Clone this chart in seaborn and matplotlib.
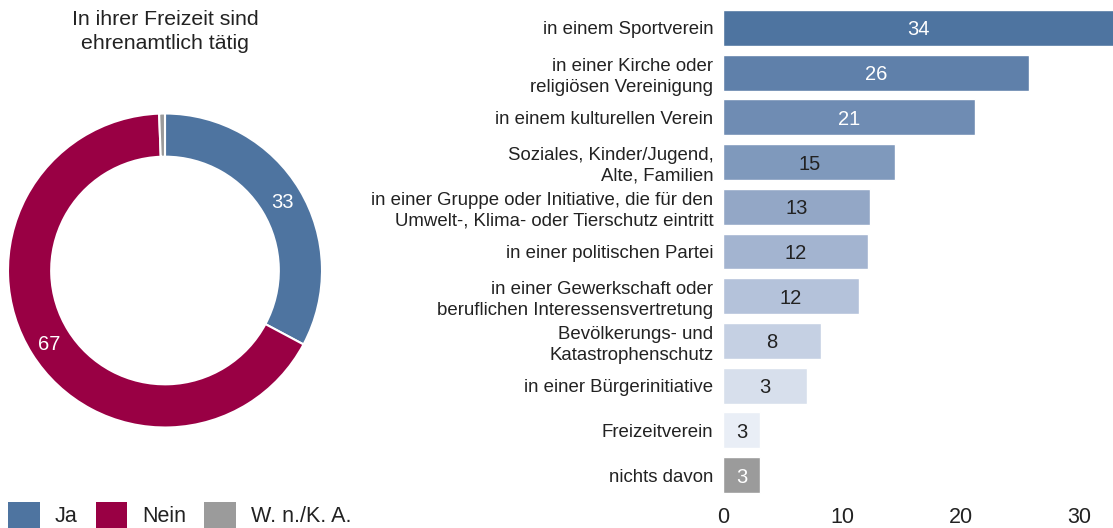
import matplotlib
matplotlib.use("Agg")
import matplotlib.pyplot as plt
from matplotlib.patches import Patch
import seaborn as sns
import numpy as np

# ---------------- data ----------------
donut_labels = ["Ja", "Nein", "W. n./K. A."]
donut_values = [33, 67, 0.6]
donut_shown = ["33", "67", ""]

categories = [
    "in einem Sportverein",
    "in einer Kirche oder\nreligiösen Vereinigung",
    "in einem kulturellen Verein",
    "Soziales, Kinder/Jugend,\nAlte, Familien",
    "in einer Gruppe oder Initiative, die für den\nUmwelt-, Klima- oder Tierschutz eintritt",
    "in einer politischen Partei",
    "in einer Gewerkschaft oder\nberuflichen Interessensvertretung",
    "Bevölkerungs- und\nKatastrophenschutz",
    "in einer Bürgerinitiative",
    "Freizeitverein",
    "nichts davon",
]
bar_values = [34, 25.7, 21.2, 14.5, 12.4, 12.2, 11.4, 8.2, 7.1, 3.1, 3.1]
bar_shown = ["34", "26", "21", "15", "13", "12", "12", "8", "3", "3", "3"]
x_ticks = [0, 10, 20, 30]

# ---------------- style ----------------
sns.set_theme(style="white")
plt.rcParams["font.family"] = ["Liberation Sans", "DejaVu Sans"]
TXT = "#222222"

donut_colors = ["#4e74a0", "#990044", "#9b9b9b"]
bar_colors = ["#4e74a0", "#5f80aa", "#6f8cb3", "#7f99bc", "#93a7c6", "#a3b4d0",
              "#b4c2da", "#c5d0e3", "#d7dfec", "#e9eef6", "#9b9b9b"]
label_colors = ["white", "white", "white", TXT, TXT, TXT, TXT, TXT, TXT, TXT, "white"]

W, H = 1113, 528
fig = plt.figure(figsize=(W / 100, H / 100), dpi=100)

# ---------------- donut ----------------
cx, cy, r = 165, 270.5, 157
axd = fig.add_axes([(cx - r) / W, (H - cy - r) / H, 2 * r / W, 2 * r / H])
wedges, _ = axd.pie(donut_values, colors=donut_colors, startangle=90, counterclock=False,
                    radius=1, wedgeprops=dict(width=0.275, edgecolor="white", linewidth=1.5))
for w, s in zip(wedges, donut_shown):
    if not s:
        continue
    ang = np.deg2rad((w.theta1 + w.theta2) / 2)
    axd.text(0.87 * np.cos(ang), 0.87 * np.sin(ang), s, color="white",
             ha="center", va="center_baseline", fontsize=14.5)
axd.set_xlim(-1, 1)
axd.set_ylim(-1, 1)
axd.set_aspect("auto")
axd.axis("off")

fig.text(165 / W, 1 - 31.5 / H, "In ihrer Freizeit sind\nehrenamtlich tätig",
         ha="center", va="center", fontsize=15.3, color=TXT, linespacing=1.35)

handles = [Patch(facecolor=c, edgecolor="none") for c in donut_colors]
fig.legend(handles, donut_labels, loc="lower left", bbox_to_anchor=(-0.004, -0.024),
           ncol=3, frameon=False, fontsize=15.5, handlelength=1.45, handleheight=1.45,
           handletextpad=0.7, columnspacing=0.85, labelcolor=TXT, borderaxespad=0.2)

# ---------------- bars ----------------
axb = fig.add_axes([723 / W, 1 - 497.4 / H, 1 - 723 / W, (497.4 - 5.6) / H])
sns.barplot(x=bar_values, y=categories, hue=categories, palette=bar_colors,
            orient="h", legend=False, ax=axb, width=0.8, saturation=1)
for cont, s, c in zip(axb.containers, bar_shown, label_colors):
    for t in axb.bar_label(cont, labels=[s], label_type="center", color=c, fontsize=14.5):
        t.set_va("center_baseline")
axb.set_xlim(0, 32.8)
axb.set_ylim(10.5, -0.5)
axb.set_xticks(x_ticks)
axb.set_xlabel("")
axb.set_ylabel("")
sns.despine(ax=axb, left=True, bottom=True)
axb.tick_params(axis="both", length=0, colors=TXT)
axb.tick_params(axis="x", labelsize=15.5, pad=7)
axb.tick_params(axis="y", labelsize=13.4, pad=7)
for t in axb.get_yticklabels():
    t.set_linespacing(1.3)

fig.savefig("out.png", dpi=100)
